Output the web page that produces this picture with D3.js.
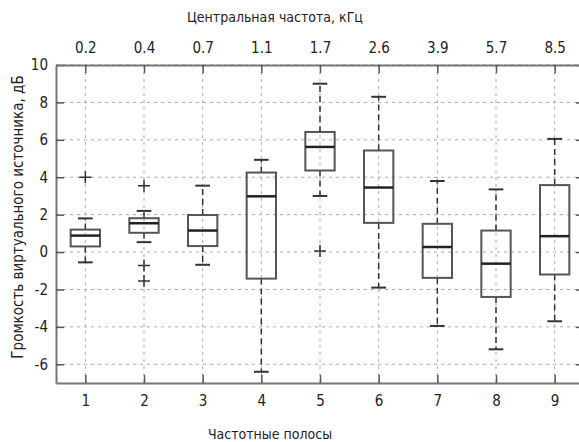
<!DOCTYPE html>
<html><head><meta charset="utf-8">
<script src="https://cdn.jsdelivr.net/npm/d3@7"></script>
<style>
body{margin:0;background:#fff;}
svg{display:block;}
text{font-family:"DejaVu Sans Condensed","DejaVu Sans",sans-serif;fill:#222;}
</style></head><body>
<svg id="c" width="579" height="442"></svg>
<script>
const categories = [1,2,3,4,5,6,7,8,9];
const freqLabels = ["0.2","0.4","0.7","1.1","1.7","2.6","3.9","5.7","8.5"];
const yTicks = [-6,-4,-2,0,2,4,6,8,10];
const whiskerLow  = [-0.55, 0.53, -0.68, -6.4, 3.0, -1.9, -3.95, -5.2, -3.7];
const q1          = [0.3, 1.03, 0.32, -1.42, 4.36, 1.56, -1.38, -2.4, -1.2];
const medians     = [0.88, 1.54, 1.15, 2.98, 5.62, 3.45, 0.27, -0.62, 0.85];
const q3          = [1.2, 1.81, 1.98, 4.25, 6.42, 5.43, 1.51, 1.15, 3.58];
const whiskerHigh = [1.8, 2.2, 3.55, 4.93, 9.0, 8.3, 3.8, 3.35, 6.05];
const outliers    = [[4.0],[3.55,-0.72,-1.55],[],[],[0.05],[],[],[],[]];

const svg = d3.select("#c");
const L=56, R=584, T=65, B=383;
const x = d3.scaleLinear().domain([0.5,9.5]).range([L,R]);
const y = d3.scaleLinear().domain([-7,10]).range([B,T]);

// grid
const g = svg.append("g");
g.selectAll(".gx").data(categories).enter().append("line")
  .attr("x1",d=>x(d)).attr("x2",d=>x(d)).attr("y1",T).attr("y2",B)
  .attr("stroke","#aaa").attr("stroke-width",1).attr("stroke-dasharray","3,4");
g.selectAll(".gy").data(yTicks).enter().append("line")
  .attr("x1",L).attr("x2",R).attr("y1",d=>y(d)).attr("y2",d=>y(d))
  .attr("stroke","#aaa").attr("stroke-width",1).attr("stroke-dasharray","3,4");

// axes
const axL = svg.append("g").attr("transform",`translate(${L},0)`)
  .call(d3.axisLeft(y).tickValues(yTicks).tickFormat(d=>String(d)).tickSizeInner(-8).tickSizeOuter(0).tickPadding(8));
const axR = svg.append("g").attr("transform",`translate(${R},0)`)
  .call(d3.axisRight(y).tickValues(yTicks).tickSizeInner(-8).tickSizeOuter(0).tickFormat(""));
const axB = svg.append("g").attr("transform",`translate(0,${B})`)
  .call(d3.axisBottom(x).tickValues(categories).tickFormat(d=>String(d)).tickSizeInner(-8).tickSizeOuter(0).tickPadding(12));
const axT = svg.append("g").attr("transform",`translate(0,${T})`)
  .call(d3.axisTop(x).tickValues(categories).tickFormat((d,i)=>freqLabels[i]).tickSizeInner(-8).tickSizeOuter(0).tickPadding(12));
[axL,axR,axB,axT].forEach(a=>{
  a.select(".domain").attr("stroke","#777").attr("stroke-width",2);
  a.selectAll(".tick line").attr("stroke","#555").attr("stroke-width",1.5);
  a.selectAll(".tick text").style("font-size","15px").attr("fill","#222");
});

// boxes
const bw = x(1.25)-x(1), cw = x(1.125)-x(1);
const boxes = svg.append("g").selectAll("g").data(categories).enter().append("g");
boxes.append("line").attr("x1",d=>x(d)).attr("x2",d=>x(d))
  .attr("y1",(d,i)=>y(q3[i])).attr("y2",(d,i)=>y(whiskerHigh[i]))
  .attr("stroke","#333").attr("stroke-width",1.5).attr("stroke-dasharray","6,4");
boxes.append("line").attr("x1",d=>x(d)).attr("x2",d=>x(d))
  .attr("y1",(d,i)=>y(q1[i])).attr("y2",(d,i)=>y(whiskerLow[i]))
  .attr("stroke","#333").attr("stroke-width",1.5).attr("stroke-dasharray","6,4");
boxes.append("line").attr("x1",d=>x(d)-cw).attr("x2",d=>x(d)+cw)
  .attr("y1",(d,i)=>y(whiskerHigh[i])).attr("y2",(d,i)=>y(whiskerHigh[i]))
  .attr("stroke","#333").attr("stroke-width",2);
boxes.append("line").attr("x1",d=>x(d)-cw).attr("x2",d=>x(d)+cw)
  .attr("y1",(d,i)=>y(whiskerLow[i])).attr("y2",(d,i)=>y(whiskerLow[i]))
  .attr("stroke","#333").attr("stroke-width",2);
boxes.append("rect").attr("x",d=>x(d)-bw).attr("width",2*bw)
  .attr("y",(d,i)=>y(q3[i])).attr("height",(d,i)=>y(q1[i])-y(q3[i]))
  .attr("fill","none").attr("stroke","#555").attr("stroke-width",2);
boxes.append("line").attr("x1",d=>x(d)-bw).attr("x2",d=>x(d)+bw)
  .attr("y1",(d,i)=>y(medians[i])).attr("y2",(d,i)=>y(medians[i]))
  .attr("stroke","#222").attr("stroke-width",2.5);
boxes.each(function(d,i){
  const s = d3.select(this);
  outliers[i].forEach(v=>{
    s.append("path").attr("d",`M${x(d)-6},${y(v)}H${x(d)+6}M${x(d)},${y(v)-6}V${y(v)+6}`)
     .attr("stroke","#333").attr("stroke-width",1.5).attr("fill","none");
  });
});

// labels
svg.append("text").attr("x",275).attr("y",22).attr("text-anchor","middle")
  .style("font-size","14px").text("Центральная частота, кГц");
svg.append("text").attr("x",270).attr("y",439).attr("text-anchor","middle")
  .style("font-size","14px").text("Частотные полосы");
svg.append("text").attr("transform","translate(23,217) rotate(-90)").attr("text-anchor","middle")
  .style("font-size","15px").text("Громкость виртуального источника, дБ");
</script>
</body></html>
